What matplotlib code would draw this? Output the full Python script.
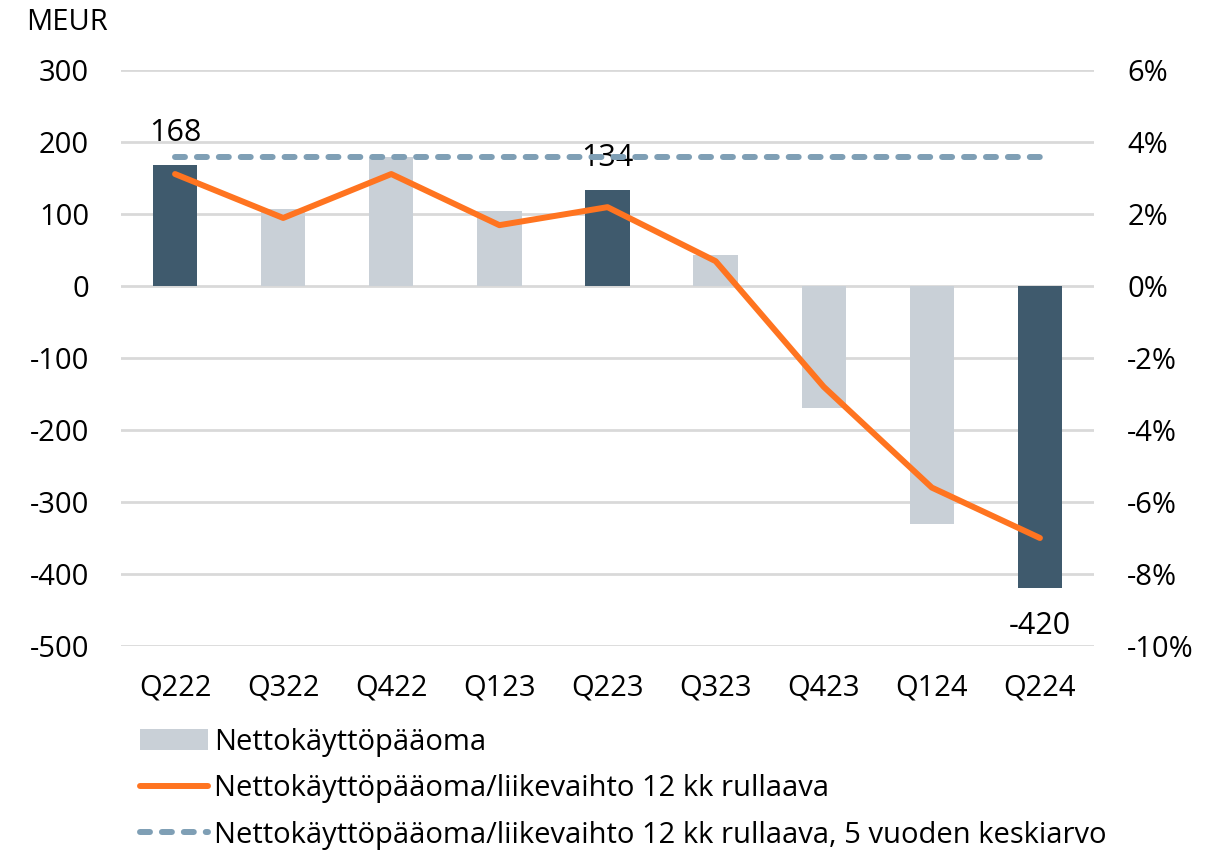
import matplotlib
matplotlib.use("Agg")
import matplotlib.pyplot as plt
from matplotlib.ticker import FuncFormatter
from matplotlib.patches import Patch
from matplotlib.lines import Line2D

plt.rcParams['font.family'] = ['Open Sans', 'Noto Sans', 'DejaVu Sans']
plt.rcParams['axes.unicode_minus'] = False

categories = ["Q222", "Q322", "Q422", "Q123", "Q223", "Q323", "Q423", "Q124", "Q224"]
nwc = [168, 107, 179, 104, 134, 43, -169, -330, -420]
highlight = [True, False, False, False, True, False, False, False, True]
ratio = [3.11, 1.89, 3.11, 1.69, 2.19, 0.69, -2.8, -5.6, -7.0]
avg5y = [3.58] * len(categories)
labelled = {0: "168", 4: "134", 8: "-420"}

dark = "#3F5A6D"
light = "#C9D0D7"
orange = "#FF7420"
dashc = "#7F9FB5"
grid = "#D9D9D9"

FS = 21

fig = plt.figure(figsize=(12.18, 8.51), dpi=100)
ax = fig.add_axes([121/1218, 1 - 646/851, (1094-121)/1218, (646-70)/851])
ax2 = ax.twinx()

x = list(range(len(categories)))
colors = [dark if h else light for h in highlight]
ax.bar(x, nwc, width=0.41, color=colors, zorder=2)
ax.set_xlim(-0.5, len(categories) - 0.5)
ax.set_ylim(-500, 300)
ax.set_yticks(range(-500, 301, 100))
ax.grid(axis='y', color=grid, linewidth=2, zorder=0)
ax.set_axisbelow(True)
ax.set_xticks(x)
ax.set_xticklabels(categories)

ax2.set_ylim(-10, 6)
ax2.set_yticks(range(-10, 7, 2))
ax2.yaxis.set_major_formatter(FuncFormatter(lambda v, p: f"{int(v)}%"))
ax2.plot(x, ratio, color=orange, linewidth=4.3, solid_capstyle='round', zorder=4)
ax2.plot(x, avg5y, color=dashc, linewidth=4.3, dashes=(1.67, 2.0), dash_capstyle='round', zorder=3)

for a in (ax, ax2):
    for s in a.spines.values():
        s.set_visible(False)
    a.tick_params(length=0, labelsize=FS, colors='black')
ax.tick_params(axis='y', pad=23)
ax.tick_params(axis='x', pad=20)
ax2.tick_params(axis='y', pad=24)

for i, t in labelled.items():
    v = nwc[i]
    if v >= 0:
        ax.annotate(t, (i, v), xytext=(0, 12), textcoords='offset points',
                    ha='center', va='bottom', fontsize=22, zorder=6)
    else:
        ax.annotate(t, (i, v), xytext=(0, -16), textcoords='offset points',
                    ha='center', va='top', fontsize=22, zorder=6)

fig.text(67/1218, 1 - 22/851, "MEUR", ha='center', va='center', fontsize=FS)

handles = [
    Patch(facecolor=light, edgecolor='none'),
    Line2D([0], [0], color=orange, linewidth=4.3, solid_capstyle='round'),
    Line2D([0], [0], color=dashc, linewidth=4.3, dashes=(1.67, 2.0), dash_capstyle='round'),
]
labels_leg = ["Nettokäyttöpääoma",
              "Nettokäyttöpääoma/liikevaihto 12 kk rullaava",
              "Nettokäyttöpääoma/liikevaihto 12 kk rullaava, 5 vuoden keskiarvo"]
fig.legend(handles, labels_leg, loc='upper left', bbox_to_anchor=(128/1218, 1 - 716/851),
           frameon=False, fontsize=FS, handlelength=2.35, handletextpad=0.2,
           labelspacing=0.6, borderaxespad=0)

fig.savefig("out.png", dpi=100)
